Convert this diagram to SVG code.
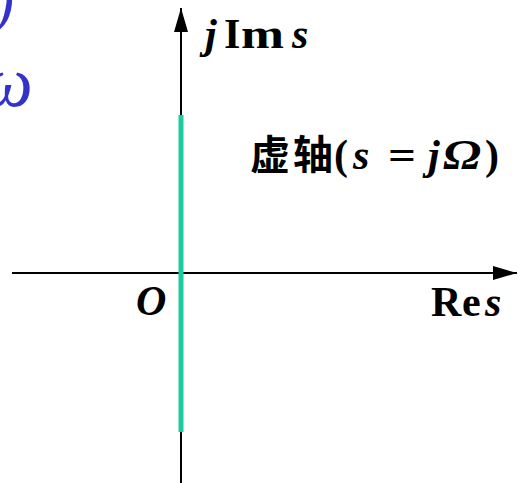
<svg xmlns="http://www.w3.org/2000/svg" width="519" height="483" viewBox="0 0 519 483">
<style>
.t{font-family:"Liberation Serif","Times New Roman",serif;font-weight:bold;font-size:42px;fill:#000}
.i{font-style:italic}
.cjk{font-family:"Noto Sans CJK SC",sans-serif;font-weight:bold;font-size:40px;fill:#000}
.b{font-family:"Liberation Serif",serif;font-style:italic;fill:#3333cc}
</style>
<defs>
<marker id="ah" viewBox="0 0 24 14" refX="24" refY="7" markerWidth="24" markerHeight="14" markerUnits="userSpaceOnUse" orient="auto">
<path d="M0,0 L24,7 L0,14 Z" fill="#000"/>
</marker>
</defs>
<rect width="519" height="483" fill="#fff"/>
<g id="axes">
<line x1="181" y1="483" x2="181" y2="8" stroke="#000" stroke-width="2" marker-end="url(#ah)"/>
<line x1="12" y1="273" x2="517" y2="273" stroke="#000" stroke-width="2" marker-end="url(#ah)"/>
</g>
<g id="imag-axis">
<line x1="181" y1="115" x2="181" y2="432" stroke="#1dcc9c" stroke-width="5"/>
</g>
<g id="labels">
<text class="t i" x="205" y="48">j</text>
<text class="t" x="224" y="48">I</text>
<text class="t" x="241" y="48" textLength="43" lengthAdjust="spacingAndGlyphs">m</text>
<text class="t i" x="292" y="48">s</text>
<text class="cjk" x="250" y="169">虚</text>
<text class="cjk" x="293" y="169">轴</text>
<text class="t" x="334" y="169">(</text>
<text class="t i" x="353" y="169">s</text>
<text class="t" x="388" y="169" textLength="28" lengthAdjust="spacingAndGlyphs">=</text>
<text class="t i" x="428" y="169">j</text>
<text class="t i" x="443" y="169" textLength="38" lengthAdjust="spacingAndGlyphs">Ω</text>
<text class="t" x="485" y="169">)</text>
<text class="t i" x="136" y="315">O</text>
<text class="t" x="431" y="316">R</text>
<text class="t" x="462" y="316">e</text>
<text class="t i" x="485" y="316">s</text>
<text class="b" x="-6" y="22" font-size="60">)</text>
<text class="b" x="-18" y="106" font-size="72">ω</text>
</g>
</svg>
